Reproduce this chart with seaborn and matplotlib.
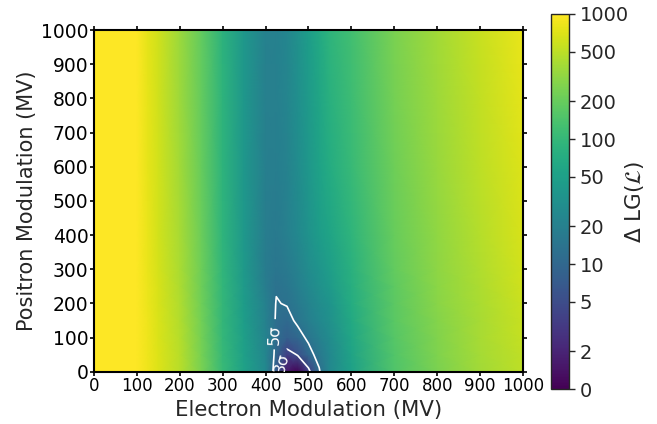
import numpy as np
import matplotlib
matplotlib.use("Agg")
import matplotlib.pyplot as plt
from matplotlib.colors import LogNorm
import seaborn as sns

sns.set_style("ticks")
plt.rcParams['font.family'] = ['DejaVu Sans']
plt.rcParams['mathtext.fontset'] = 'dejavusans'

# Electron modulation grid (MV)
electron_mv = [0, 50, 100, 125, 150, 200, 250, 300, 350, 400, 425, 450, 475,
               500, 525, 550, 600, 700, 800, 900, 1000]
# Positron modulation grid (MV)
positron_mv = [0, 50, 100, 150, 200, 250, 300, 400, 600, 800, 1000]

# Delta LG(L) (+1 offset, colour scale) read per positron row
row_p0 = [1000, 1000, 1000, 850, 700, 480, 250, 105, 52, 26, 7, 1.5, 1.0, 3.5, 12, 25, 50, 150, 250, 380, 500]
row_p50 = [1000, 1000, 1000, 850, 690, 470, 240, 102, 50, 24, 10, 3.5, 5.2, 10, 16, 25, 55, 155, 260, 390, 520]
row_p100 = [1000, 1000, 1000, 840, 680, 460, 235, 100, 48, 22, 11.5, 8, 10, 14.5, 20, 28, 60, 160, 270, 400, 540]
row_p150 = [1000, 1000, 1000, 830, 670, 450, 230, 98, 46, 21, 12, 10.5, 14.5, 19, 25, 32, 65, 170, 280, 410, 560]
row_p200 = [1000, 1000, 1000, 820, 660, 440, 225, 96, 44, 20, 12.6, 13.5, 17, 22, 28, 36, 70, 175, 290, 420, 580]
row_p250 = [1000, 1000, 1000, 810, 650, 430, 220, 94, 42, 18, 13.6, 15, 19, 25, 32, 42, 75, 180, 300, 430, 600]
row_p300 = [1000, 1000, 1000, 800, 640, 420, 215, 92, 41, 17.5, 15, 17, 21, 28, 36, 47, 80, 190, 310, 445, 620]
row_p400 = [1000, 1000, 1000, 790, 630, 400, 210, 90, 40, 18, 17, 19.5, 25, 34, 44, 56, 90, 200, 320, 460, 650]
row_p600 = [1000, 1000, 1000, 780, 620, 380, 200, 88, 39, 19, 18.5, 21.5, 28, 39, 53, 70, 105, 220, 345, 500, 700]
row_p800 = [1000, 1000, 1000, 770, 610, 365, 195, 86, 39, 19.5, 19.5, 23, 30, 42, 58, 80, 115, 235, 365, 530, 750]
row_p1000 = [1000, 1000, 1000, 760, 600, 355, 190, 85, 39, 20, 20, 24, 32, 46, 65, 90, 125, 250, 380, 560, 800]

sigma_levels = [5.0, 13.0]
sigma_labels = ['3σ', '5σ']

cbar_ticks = [1, 2, 5, 10, 20, 50, 100, 200, 500, 1000]
cbar_ticklabels = ['0', '2', '5', '10', '20', '50', '100', '200', '500', '1000']
axis_ticks = [0, 100, 200, 300, 400, 500, 600, 700, 800, 900, 1000]

Z = np.array([row_p0, row_p50, row_p100, row_p150, row_p200, row_p250,
              row_p300, row_p400, row_p600, row_p800, row_p1000])
X, Y = np.meshgrid(electron_mv, positron_mv)

fig = plt.figure(figsize=(6.57, 4.24), dpi=100)
ax = fig.add_axes([0.143, 0.123, 0.653, 0.806])
cax = fig.add_axes([0.839, 0.0825, 0.027, 0.8845])

cmap = sns.color_palette("viridis", as_cmap=True)
norm = LogNorm(vmin=1, vmax=1000)
mesh = ax.pcolormesh(X, Y, np.clip(Z, 1, 1000), cmap=cmap, norm=norm,
                     shading='gouraud', rasterized=True)

cs = ax.contour(X, Y, Z, levels=sigma_levels, colors='white', linewidths=1.2)
fmt = {lev: lab for lev, lab in zip(sigma_levels, sigma_labels)}
ax.clabel(cs, fmt=fmt, fontsize=11.5, inline=True,
          manual=[(437, 25), (418, 110)])

ax.set_xlim(0, 1000)
ax.set_ylim(0, 1000)
ax.set_xticks(axis_ticks)
ax.set_yticks(axis_ticks)
ax.tick_params(axis='both', direction='inout', length=6, width=1.2,
               top=True, right=True, colors='black')
ax.tick_params(axis='x', labelsize=12, pad=1)
ax.tick_params(axis='y', labelsize=13.5, pad=1)
for sp in ax.spines.values():
    sp.set_linewidth(1.5)
    sp.set_color('black')
ax.set_xlabel('Electron Modulation (MV)', fontsize=15.3, labelpad=3)
ax.set_ylabel('Positron Modulation (MV)', fontsize=15, labelpad=3)

cb = fig.colorbar(mesh, cax=cax)
cb.set_ticks(cbar_ticks)
cb.set_ticklabels(cbar_ticklabels)
cb.minorticks_off()
cax.tick_params(labelsize=14, length=4, width=1)
cb.set_label(r'$\Delta$ LG($\mathcal{L}$)', fontsize=15.5, labelpad=-4)
cb.outline.set_linewidth(1)

fig.savefig('out.png', dpi=100)
